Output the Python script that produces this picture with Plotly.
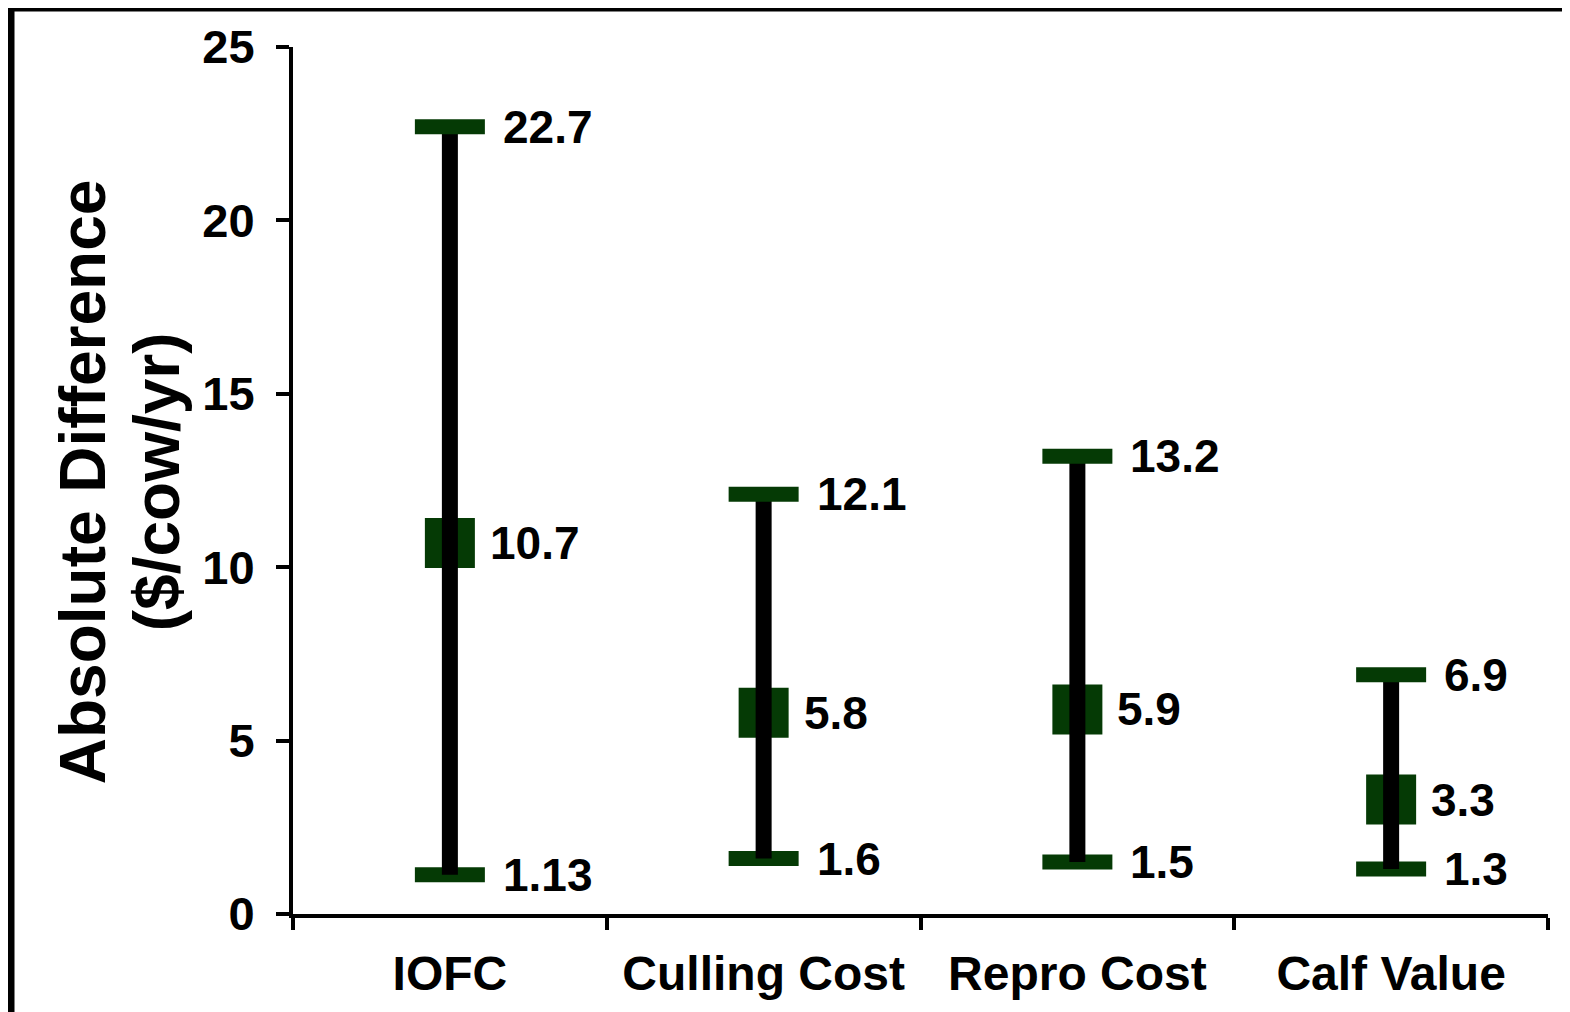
import plotly.graph_objects as go

categories = ["IOFC", "Culling Cost", "Repro Cost", "Calf Value"]
min_vals = [1.13, 1.6, 1.5, 1.3]
mean_vals = [10.7, 5.8, 5.9, 3.3]
max_vals = [22.7, 12.1, 13.2, 6.9]
y_ticks = [0, 5, 10, 15, 20, 25]
y_title_lines = ["Absolute Difference", "($/cow/yr)"]

GREEN = "#053a05"
FONT = "Liberation Sans, Arial, sans-serif"

fig = go.Figure()

# min markers (dashes)
fig.add_trace(go.Scatter(
    x=categories, y=min_vals, mode="markers",
    marker=dict(symbol="line-ew", size=50, line=dict(width=15, color=GREEN)),
    showlegend=False, hoverinfo="skip"))
# mean markers
fig.add_trace(go.Scatter(
    x=categories, y=mean_vals, mode="markers",
    marker=dict(symbol="square", size=50, color=GREEN, line=dict(width=0)),
    showlegend=False, hoverinfo="skip"))
# range lines
for c, lo, hi in zip(categories, min_vals, max_vals):
    fig.add_trace(go.Scatter(
        x=[c, c], y=[lo, hi], mode="lines",
        line=dict(color="black", width=16),
        showlegend=False, hoverinfo="skip"))
# max markers
fig.add_trace(go.Scatter(
    x=categories, y=max_vals, mode="markers",
    marker=dict(symbol="line-ew", size=50, line=dict(width=15, color=GREEN)),
    showlegend=False, hoverinfo="skip"))

def fmt(v):
    return f"{v:g}"

for c, lo, mn, hi in zip(categories, min_vals, mean_vals, max_vals):
    for v, shift in ((lo, 51), (mn, 38), (hi, 51)):
        fig.add_annotation(x=c, y=v, text=fmt(v), showarrow=False,
                           xanchor="left", yanchor="middle", xshift=shift,
                           font=dict(family=FONT, size=46, color="black", weight="bold"))

PW, PH = 1255, 867  # plot area size in px

for line_text, px in zip(y_title_lines, (83, 157)):
    fig.add_annotation(xref="paper", yref="paper", x=(px - 293) / PW, y=0.498,
                       text=line_text, textangle=-90,
                       showarrow=False, xanchor="center", yanchor="middle",
                       font=dict(family=FONT, size=64, color="black", weight="bold"))

# outer frame
fig.add_shape(type="rect", xref="paper", yref="paper",
              x0=(11 - 293) / PW, x1=1.2, y0=-0.3, y1=(914 - 8) / PH,
              line=dict(color="black", width=7), fillcolor="rgba(0,0,0,0)", layer="below")
# bottom-right small box
fig.add_shape(type="rect", xref="paper", yref="paper",
              x0=(1563 - 293) / PW, x1=1.2, y0=-0.3, y1=(914 - 899) / PH,
              line=dict(color="black", width=1.5), fillcolor="white", layer="below")

fig.update_layout(
    width=1570, height=1012,
    margin=dict(l=285, r=30, t=39, b=106),
    paper_bgcolor="white", plot_bgcolor="white",
    xaxis=dict(type="category", categoryorder="array", categoryarray=categories,
               range=[-0.5, 3.5], tickson="boundaries", ticks="outside", ticklen=12,
               tickwidth=4, tickcolor="black", showline=True, linewidth=4, linecolor="black",
               showgrid=False, zeroline=False, ticklabelstandoff=14,
               tickfont=dict(family=FONT, size=48, color="black", weight="bold")),
    yaxis=dict(range=[0, 25], tickvals=y_ticks, ticks="outside", ticklen=13, tickwidth=4,
               tickcolor="black", showline=True, linewidth=4, linecolor="black",
               showgrid=False, zeroline=False, ticklabelstandoff=12,
               tickfont=dict(family=FONT, size=47, color="black", weight="bold")),
)

fig.write_html("out.html")
